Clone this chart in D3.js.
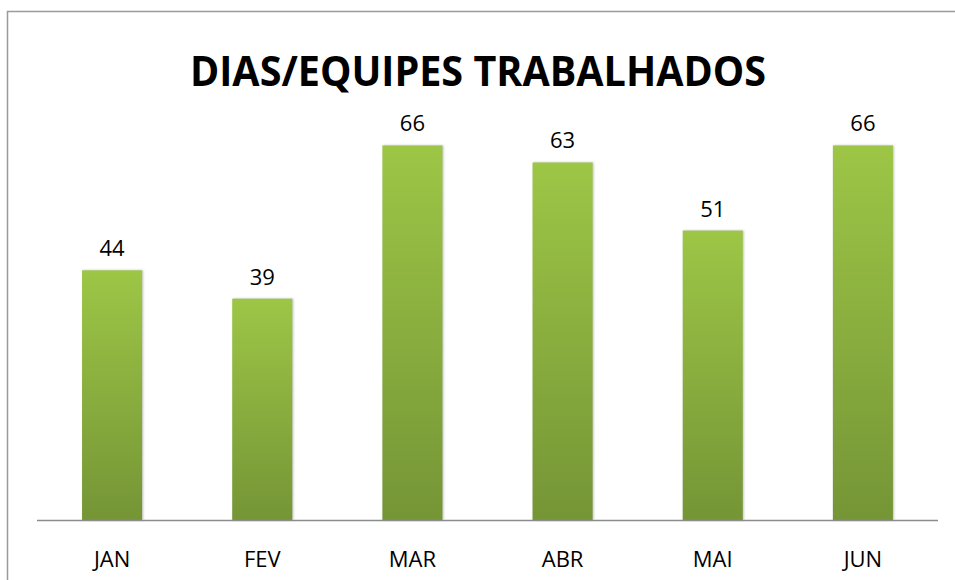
<!DOCTYPE html>
<html>
<head>
<meta charset="utf-8">
<script src="https://cdn.jsdelivr.net/npm/d3@7"></script>
<style>
  body { margin: 0; background: #fff; }
  text { font-family: "Open Sans", "DejaVu Sans", sans-serif; fill: #000; }
</style>
</head>
<body>
<script>
// chart data
let months = ['JAN', 'FEV', 'MAR', 'ABR', 'MAI', 'JUN'];
let dias = [44, 39, 66, 63, 51, 66];
let titulo = 'DIAS/EQUIPES TRABALHADOS';

let W = 955, H = 580;
let svg = d3.select('body')
    .append('svg')
        .attr('width', W)
        .attr('height', H);

// gradient for the bars
let grad = svg.append('defs').append('linearGradient')
    .attr('id', 'barGrad')
    .attr('x1', 0).attr('y1', 0).attr('x2', 0).attr('y2', 1);
grad.append('stop').attr('offset', '0%').attr('stop-color', '#9dc646');
grad.append('stop').attr('offset', '100%').attr('stop-color', '#759536');

// outer frame (runs off the right/bottom edge)
svg.append('rect')
    .attr('x', 7.5).attr('y', 11.5)
    .attr('width', W + 20).attr('height', H + 20)
    .attr('fill', 'none')
    .attr('stroke', '#9a9a9a')
    .attr('stroke-width', 1.5);

let x = d3.scaleBand()
    .domain(months)
    .range([37, 938])
    .paddingInner(0.6)
    .paddingOuter(0.3);

let y = d3.scaleLinear()
    .domain([0, 80])
    .range([520, 66]);

// title
svg.append('text')
    .attr('x', 478).attr('y', 86)
    .attr('text-anchor', 'middle')
    .attr('font-size', 41)
    .attr('font-weight', 'bold')
    .attr('textLength', 576)
    .attr('lengthAdjust', 'spacingAndGlyphs')
    .text(titulo);

// bars
svg.selectAll('.bar')
    .data(dias)
    .enter().append('rect')
        .attr('class', 'bar')
        .attr('x', (d, i) => x(months[i]))
        .attr('y', d => y(d))
        .attr('width', x.bandwidth())
        .attr('height', d => y(0) - y(d))
        .attr('fill', 'url(#barGrad)')
        .style('filter', 'drop-shadow(1px 0px 1px rgba(0,0,0,0.25))');

// value labels
svg.selectAll('.val')
    .data(dias)
    .enter().append('text')
        .attr('class', 'val')
        .attr('x', (d, i) => x(months[i]) + x.bandwidth() / 2)
        .attr('y', d => y(d) - 14)
        .attr('text-anchor', 'middle')
        .attr('font-size', 22)
        .text(d => d);

// x axis
let axis = svg.append('g')
    .attr('transform', 'translate(0,' + y(0) + ')')
    .call(d3.axisBottom(x).tickSize(0).tickPadding(31));
axis.select('.domain')
    .attr('d', 'M37,0.5H938')
    .attr('stroke', '#8c8c8c')
    .attr('stroke-width', 1.5);
axis.selectAll('.tick text')
    .attr('font-size', 22)
    .attr('font-family', null)
    .style('fill', '#000');
</script>
</body>
</html>
